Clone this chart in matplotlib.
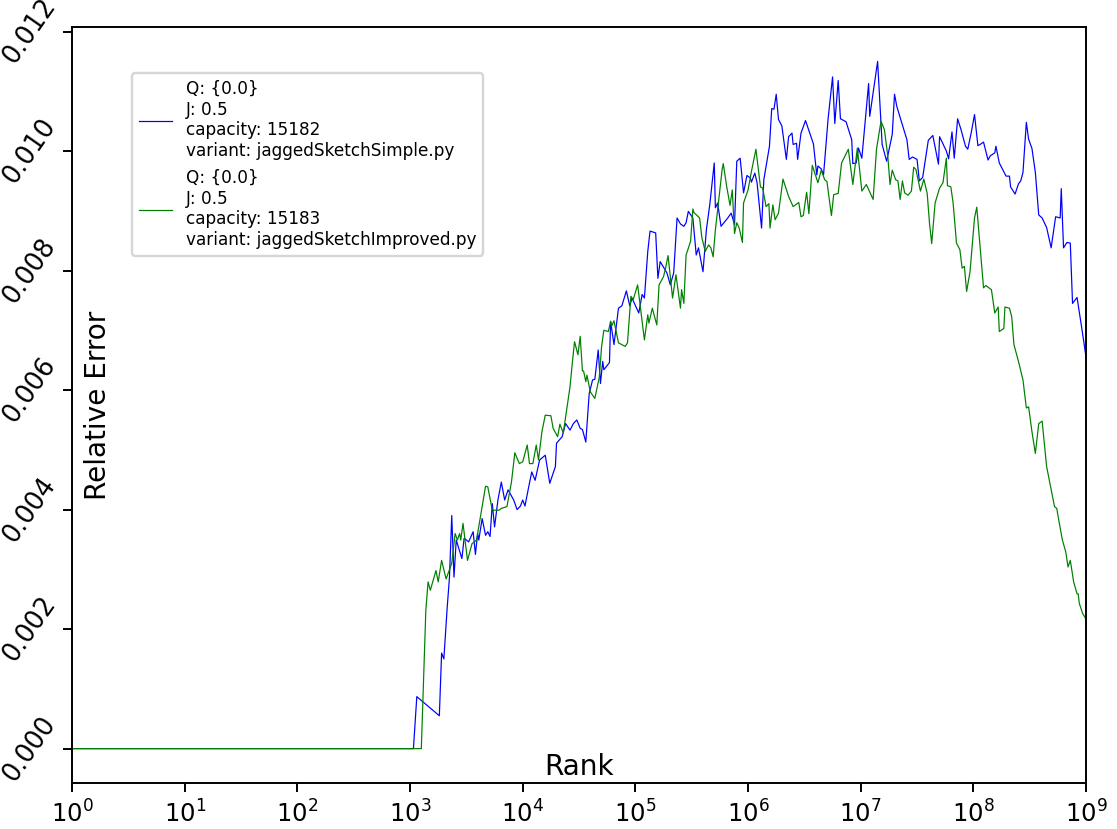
import matplotlib
matplotlib.use("Agg")
import matplotlib.pyplot as plt
from matplotlib.ticker import NullLocator

# log10(rank) and relative error
simple_log_rank = [
  0.0, 3.03, 3.06, 3.26, 3.28, 3.30, 3.33, 3.35, 3.37, 3.39, 3.41, 3.46, 3.48, 3.52, 3.56, 3.58,
  3.60, 3.61, 3.64, 3.67, 3.69, 3.71, 3.73, 3.75, 3.78, 3.81, 3.84, 3.87, 3.92, 3.95, 3.98, 4.00,
  4.02, 4.05, 4.08, 4.11, 4.15, 4.20, 4.24, 4.29, 4.30, 4.35, 4.38, 4.42, 4.45, 4.48, 4.51, 4.53,
  4.56, 4.59, 4.62, 4.64, 4.67, 4.69, 4.71, 4.72, 4.77, 4.78, 4.81, 4.85, 4.88, 4.92, 4.95, 4.97,
  5.03, 5.06, 5.08, 5.11, 5.13, 5.18, 5.20, 5.22, 5.28, 5.31, 5.34, 5.37, 5.40, 5.43, 5.45, 5.47,
  5.51, 5.54, 5.56, 5.60, 5.63, 5.66, 5.70, 5.71, 5.73, 5.76, 5.82, 5.85, 5.88, 5.90, 5.93, 5.96,
  5.99, 6.02, 6.03, 6.06, 6.08, 6.12, 6.14, 6.19, 6.21, 6.23, 6.25, 6.27, 6.30, 6.34, 6.36, 6.39,
  6.40, 6.43, 6.44, 6.47, 6.51, 6.58, 6.61, 6.62, 6.65, 6.67, 6.71, 6.75, 6.77, 6.80, 6.82, 6.87,
  6.92, 6.93, 6.96, 6.98, 7.01, 7.07, 7.08, 7.15, 7.19, 7.23, 7.28, 7.30, 7.32, 7.35, 7.41, 7.43,
  7.46, 7.50, 7.52, 7.55, 7.60, 7.64, 7.69, 7.70, 7.76, 7.78, 7.81, 7.83, 7.86, 7.89, 7.93, 7.95,
  7.98, 8.01, 8.04, 8.06, 8.09, 8.13, 8.15, 8.19, 8.20, 8.23, 8.29, 8.32, 8.33, 8.37, 8.40, 8.42,
  8.44, 8.47, 8.49, 8.52, 8.55, 8.58, 8.61, 8.65, 8.69, 8.73, 8.77, 8.78, 8.80, 8.83, 8.86, 8.88,
  8.92, 8.96, 9.00]
simple_error = [
  0.0, 0.0, 0.00087, 0.00055, 0.0016, 0.0015, 0.00237, 0.00287, 0.0039, 0.00287, 0.00349, 0.00318,
  0.00352, 0.00346, 0.00363, 0.00325, 0.0036, 0.00349, 0.00385, 0.00357, 0.00363, 0.00355, 0.0041,
  0.00371, 0.00416, 0.00446, 0.00416, 0.00433, 0.00416, 0.004, 0.00406, 0.00416, 0.00406, 0.00435,
  0.00463, 0.00449, 0.00483, 0.00491, 0.00444, 0.00472, 0.00511, 0.00522, 0.00544, 0.00533, 0.00544,
  0.0055, 0.00536, 0.00534, 0.00513, 0.00594, 0.00617, 0.00618, 0.00667, 0.00611, 0.00648, 0.00634,
  0.00646, 0.00715, 0.00676, 0.00737, 0.00741, 0.00766, 0.00741, 0.00754, 0.00729, 0.0076, 0.00754,
  0.00832, 0.00866, 0.00863, 0.00787, 0.00815, 0.00796, 0.00776, 0.00796, 0.00888, 0.00878, 0.00874,
  0.0088, 0.00899, 0.00888, 0.00826, 0.00838, 0.00798, 0.00868, 0.0091, 0.0098, 0.00905, 0.00913,
  0.00874, 0.00888, 0.00896, 0.00877, 0.00983, 0.00988, 0.0093, 0.00959, 0.00955, 0.00948, 0.00963,
  0.00947, 0.00871, 0.00952, 0.01008, 0.01071, 0.0107, 0.01095, 0.01053, 0.01042, 0.00986, 0.01024,
  0.0103, 0.01011, 0.01013, 0.00986, 0.0103, 0.01051, 0.01012, 0.0096, 0.00975, 0.0097, 0.0096,
  0.01053, 0.01124, 0.01046, 0.01118, 0.01054, 0.01049, 0.01019, 0.00979, 0.0098, 0.01005, 0.00988,
  0.01113, 0.01058, 0.0115, 0.01011, 0.00983, 0.01028, 0.01095, 0.01075, 0.01056, 0.01019, 0.00986,
  0.0099, 0.00986, 0.0095, 0.00956, 0.01018, 0.01026, 0.00978, 0.01024, 0.01, 0.00987, 0.01032,
  0.00988, 0.01054, 0.01036, 0.01008, 0.01003, 0.0103, 0.01061, 0.01009, 0.01011, 0.01015, 0.00985,
  0.00992, 0.00997, 0.01008, 0.0098, 0.00958, 0.00958, 0.0094, 0.00928, 0.00945, 0.0095, 0.00964,
  0.01048, 0.0102, 0.01004, 0.00964, 0.00893, 0.00888, 0.00872, 0.00838, 0.0089, 0.00888, 0.00937,
  0.00838, 0.00847, 0.00846, 0.00745, 0.00755, 0.00706, 0.00655]

improved_log_rank = [
  0.0, 3.10, 3.14, 3.16, 3.18, 3.23, 3.25, 3.28, 3.32, 3.37, 3.40, 3.42, 3.44, 3.45, 3.47, 3.51,
  3.55, 3.59, 3.64, 3.67, 3.69, 3.73, 3.79, 3.81, 3.86, 3.90, 3.93, 3.97, 4.00, 4.04, 4.06, 4.09,
  4.12, 4.14, 4.17, 4.20, 4.25, 4.27, 4.31, 4.33, 4.36, 4.39, 4.42, 4.44, 4.46, 4.49, 4.51, 4.53,
  4.54, 4.56, 4.57, 4.60, 4.64, 4.68, 4.70, 4.72, 4.76, 4.78, 4.79, 4.81, 4.85, 4.91, 4.93, 4.96,
  4.98, 5.02, 5.04, 5.05, 5.08, 5.11, 5.12, 5.15, 5.19, 5.21, 5.25, 5.27, 5.29, 5.33, 5.36, 5.40,
  5.41, 5.43, 5.45, 5.49, 5.51, 5.52, 5.57, 5.59, 5.62, 5.65, 5.67, 5.69, 5.71, 5.77, 5.78, 5.81,
  5.84, 5.86, 5.88, 5.90, 5.92, 5.95, 5.96, 6.00, 6.03, 6.07, 6.11, 6.13, 6.16, 6.185, 6.195, 6.22,
  6.24, 6.27, 6.31, 6.36, 6.40, 6.45, 6.47, 6.49, 6.52, 6.54, 6.57, 6.62, 6.65, 6.68, 6.70, 6.74,
  6.76, 6.80, 6.83, 6.89, 6.93, 6.97, 7.01, 7.05, 7.11, 7.14, 7.18, 7.21, 7.24, 7.26, 7.28, 7.31,
  7.33, 7.35, 7.37, 7.39, 7.42, 7.45, 7.47, 7.49, 7.53, 7.56, 7.59, 7.61, 7.63, 7.66, 7.70, 7.73,
  7.76, 7.77, 7.80, 7.82, 7.85, 7.88, 7.90, 7.92, 7.94, 7.97, 8.01, 8.03, 8.09, 8.11, 8.16, 8.19,
  8.22, 8.23, 8.27, 8.28, 8.32, 8.34, 8.36, 8.40, 8.44, 8.47, 8.49, 8.52, 8.55, 8.58, 8.61, 8.65,
  8.72, 8.74, 8.76, 8.79, 8.82, 8.84, 8.86, 8.89, 8.92, 8.93, 8.94, 8.97, 8.99, 9.00]
improved_error = [
  0.0, 0.0, 0.00231, 0.00279, 0.00265, 0.00298, 0.00279, 0.00315, 0.00284, 0.0031, 0.0036, 0.00349,
  0.0036, 0.00349, 0.00377, 0.00315, 0.00343, 0.00349, 0.00405, 0.00439, 0.00438, 0.00399, 0.00399,
  0.00402, 0.00405, 0.00446, 0.00495, 0.00477, 0.0048, 0.00508, 0.00477, 0.00477, 0.00508, 0.00483,
  0.0053, 0.00558, 0.00557, 0.00536, 0.00522, 0.00543, 0.00528, 0.00567, 0.00606, 0.00645, 0.00681,
  0.00659, 0.0069, 0.00632, 0.00632, 0.00614, 0.00625, 0.00597, 0.00586, 0.00622, 0.00673, 0.007,
  0.00698, 0.00715, 0.00707, 0.00716, 0.00679, 0.00673, 0.00679, 0.00757, 0.00751, 0.00776, 0.00745,
  0.00731, 0.00684, 0.00726, 0.00712, 0.00737, 0.00709, 0.00776, 0.0079, 0.00806, 0.00825, 0.00754,
  0.00793, 0.00737, 0.00768, 0.00745, 0.00826, 0.00849, 0.00903, 0.00897, 0.00888, 0.00855, 0.00832,
  0.00843, 0.00838, 0.00823, 0.00868, 0.00969, 0.00979, 0.00941, 0.00909, 0.00935, 0.00862, 0.0088,
  0.00872, 0.00847, 0.00913, 0.00935, 0.00966, 0.01003, 0.0094, 0.00938, 0.00907, 0.00912, 0.00871,
  0.0091, 0.00885, 0.00896, 0.00953, 0.00924, 0.00907, 0.00914, 0.0089, 0.00892, 0.00931, 0.00895,
  0.00976, 0.00947, 0.00968, 0.00952, 0.00949, 0.00892, 0.00927, 0.00929, 0.0098, 0.01003, 0.00944,
  0.01005, 0.00933, 0.00944, 0.00919, 0.01003, 0.0105, 0.01036, 0.00992, 0.00944, 0.00968, 0.00952,
  0.0095, 0.00919, 0.0095, 0.0093, 0.00926, 0.00933, 0.00973, 0.00969, 0.00933, 0.00953, 0.00929,
  0.0088, 0.00845, 0.00913, 0.00938, 0.00947, 0.00988, 0.00942, 0.0094, 0.00913, 0.00846, 0.00835,
  0.00804, 0.00807, 0.00765, 0.00798, 0.00888, 0.00906, 0.00771, 0.00775, 0.00768, 0.00729, 0.00739,
  0.00698, 0.00703, 0.00739, 0.00737, 0.00723, 0.00676, 0.00648, 0.00617, 0.0057, 0.00572, 0.0053,
  0.00494, 0.00544, 0.00548, 0.00472, 0.00405, 0.00402, 0.0038, 0.00349, 0.00329, 0.00304, 0.00315,
  0.00279, 0.00259, 0.00259, 0.00243, 0.00226, 0.0022, 0.00215]

simple_label = "Q: {0.0}\nJ: 0.5\ncapacity: 15182\nvariant: jaggedSketchSimple.py"
improved_label = "Q: {0.0}\nJ: 0.5\ncapacity: 15183\nvariant: jaggedSketchImproved.py"


if __name__ == "__main__":
  fig = plt.figure(figsize=(1117 / 175, 829 / 175), dpi=175)
  ax = fig.add_axes([0.0645, 0.0555, 0.9078, 0.9119])

  simple_rank = [10 ** v for v in simple_log_rank]
  improved_rank = [10 ** v for v in improved_log_rank]

  ax.plot(simple_rank, simple_error, color="b", linewidth=0.5, label=simple_label)
  ax.plot(improved_rank, improved_error, color="g", linewidth=0.5, label=improved_label)

  ax.set_xscale("log")
  ax.set_xlim(1, 1e9)
  ax.xaxis.set_minor_locator(NullLocator())
  ax.set_yticks([0.0, 0.002, 0.004, 0.006, 0.008, 0.010, 0.012])
  labels = ax.set_yticklabels(["0.000", "0.002", "0.004", "0.006", "0.008", "0.010", "0.012"],
                              rotation=55, fontsize=10.5)
  for lbl in labels:
    lbl.set_verticalalignment("center")
  ax.tick_params(axis="y", pad=1.0)

  ax.set_xlabel("Rank", fontsize=11.5)
  ax.set_ylabel("Relative Error", fontsize=11.5)
  ax.xaxis.set_label_coords(0.5, 0.040)
  ax.yaxis.set_label_coords(0.039, 0.5)

  ax.legend(loc="upper left", bbox_to_anchor=(0.059, 0.939), borderaxespad=0, fontsize="x-small")

  fig.savefig("out.png", dpi=175)
